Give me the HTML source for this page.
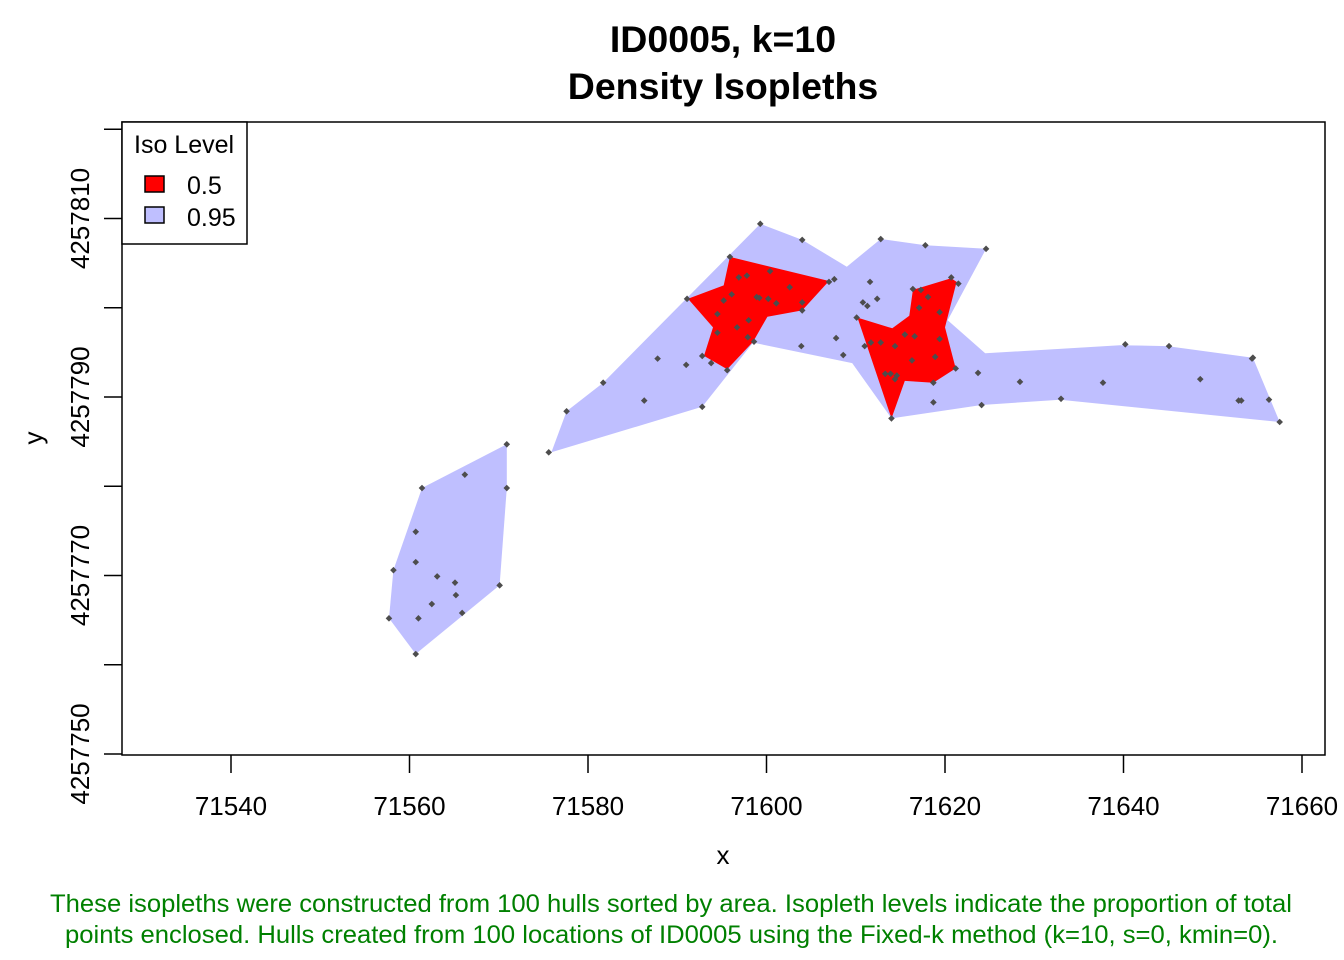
<!DOCTYPE html>
<html><head><meta charset="utf-8"><style>
html,body{margin:0;padding:0;background:#fff;}
svg{display:block;font-family:"Liberation Sans",Arial,sans-serif;}
</style></head><body>
<svg id="chart" width="1344" height="960" viewBox="0 0 1344 960">
<rect width="1344" height="960" fill="#fff"/>
<text x="723" y="52" text-anchor="middle" font-size="37.5" font-weight="bold">ID0005, k=10</text>
<text x="723" y="99" text-anchor="middle" font-size="37.5" font-weight="bold">Density Isopleths</text>
<g id="plot"></g>
<rect x="122" y="122" width="1203" height="633" fill="none" stroke="#000" stroke-width="1.5"/>
<g id="axes"></g>
<text x="723" y="864" text-anchor="middle" font-size="26">x</text>
<text transform="translate(42,438) rotate(-90)" text-anchor="middle" font-size="26">y</text>
<g>
<rect x="122" y="122" width="125" height="122" fill="#fff" stroke="#000" stroke-width="1.5"/>
<text x="134" y="153" font-size="25">Iso Level</text>
<rect x="145" y="176" width="19" height="16" fill="#ff0000" stroke="#000" stroke-width="1.5"/>
<text x="187" y="194" font-size="25">0.5</text>
<rect x="145" y="207" width="19" height="16" fill="#bfbfff" stroke="#000" stroke-width="1.5"/>
<text x="187" y="226" font-size="25">0.95</text>
</g>
<text x="50" y="912" font-size="25" fill="#008000" textLength="1242" lengthAdjust="spacingAndGlyphs">These isopleths were constructed from 100 hulls sorted by area. Isopleth levels indicate the proportion of total</text>
<text x="65" y="943" font-size="25" fill="#008000" textLength="1213" lengthAdjust="spacingAndGlyphs">points enclosed. Hulls created from 100 locations of ID0005 using the Fixed-k method (k=10, s=0, kmin=0).</text>
</svg>
<script>
const xTicks=[71540,71560,71580,71600,71620,71640,71660];
const yTicks=[4257750,4257760,4257770,4257780,4257790,4257800,4257810,4257820];
const yTickLabels=[4257750,4257770,4257790,4257810];
const iso95MainX=[71577.6,71581.7,71599.3,71604.0,71609.0,71612.8,71617.8,71624.6,71620.3,71624.5,71639.6,71644.9,71654.5,71657.5,71632.9,71624.1,71614.0,71609.6,71598.5,71592.8,71575.9];
const iso95MainY=[4257788.4,4257791.6,4257809.4,4257807.6,4257804.6,4257807.7,4257807.0,4257806.6,4257798.6,4257794.9,4257795.8,4257795.7,4257794.4,4257787.2,4257789.7,4257789.1,4257787.6,4257793.8,4257796.1,4257788.9,4257783.8];
const iso95WestX=[71570.9,71570.9,71570.1,71560.7,71557.7,71558.2,71561.4];
const iso95WestY=[4257784.7,4257779.8,4257768.9,4257761.2,4257765.2,4257770.6,4257779.8];
const iso50AX=[71595.9,71607.0,71604.0,71600.1,71598.5,71595.6,71593.0,71594.0,71591.2,71595.2];
const iso50AY=[4257805.7,4257803.0,4257799.7,4257799.0,4257796.2,4257793.1,4257794.6,4257797.8,4257801.0,4257802.5];
const iso50BX=[71610.2,71614.1,71616.0,71616.4,71620.7,71621.3,71620.0,71621.2,71618.7,71615.5,71614.0];
const iso50BY=[4257798.9,4257797.7,4257799.1,4257802.0,4257803.3,4257802.9,4257797.8,4257793.2,4257791.6,4257791.8,4257787.6];
const ptX=[71570.9,71566.2,71561.4,71570.9,71560.7,71560.7,71558.2,71563.1,71565.1,71565.2,71570.1,71562.5,71565.9,71557.7,71561.0,71560.7,
71575.6,71577.6,71581.7,71586.3,71587.8,71591.0,71592.8,71592.8,71593.8,71595.6,71594.5,71591.1,71594.5,71595.2,71596.1,71595.9,71596.9,71597.8,71600.4,71596.7,71598.0,71597.9,71598.6,71598.9,71599.2,71600.2,71601.1,71602.6,71604.0,71604.0,71599.3,71604.0,71607.0,71607.6,71603.9,71607.8,71608.6,71611.6,71610.8,71611.3,71612.4,71610.1,71611.0,71611.7,71612.8,71614.4,71615.5,71616.6,71616.3,71618.9,71619.4,71619.4,71617.1,71618.1,71616.4,71617.3,71620.7,71621.5,71612.8,71617.8,71613.3,71613.9,71614.6,71614.4,71618.7,71621.2,71614.0,71623.7,71618.7,71624.1,71624.6,71628.4,71637.7,71640.2,71645.1,71648.6,71654.5,71654.4,71633.0,71652.9,71653.2,71656.3,71657.5];
const ptY=[4257784.7,4257781.3,4257779.8,4257779.8,4257774.9,4257771.5,4257770.6,4257769.9,4257769.2,4257767.8,4257768.9,4257766.8,4257765.8,4257765.2,4257765.2,4257761.2,
4257783.8,4257788.4,4257791.6,4257789.6,4257794.3,4257793.6,4257788.9,4257794.6,4257793.8,4257793.0,4257797.2,4257801.0,4257799.3,4257800.8,4257801.5,4257805.7,4257803.4,4257803.6,4257804.1,4257797.8,4257798.6,4257796.7,4257796.2,4257801.2,4257801.1,4257801.0,4257800.5,4257802.3,4257800.6,4257799.7,4257809.4,4257807.6,4257802.9,4257803.2,4257795.7,4257796.6,4257794.7,4257802.9,4257800.6,4257800.2,4257801.0,4257798.9,4257795.7,4257796.1,4257796.1,4257795.7,4257797.0,4257796.8,4257794.1,4257794.5,4257796.5,4257799.5,4257800.0,4257801.2,4257802.1,4257802.0,4257803.4,4257802.7,4257807.7,4257807.0,4257792.6,4257792.6,4257792.4,4257792.0,4257791.6,4257793.2,4257787.6,4257792.7,4257789.4,4257789.1,4257806.6,4257791.7,4257791.6,4257795.9,4257795.7,4257792.0,4257794.4,4257794.3,4257789.8,4257789.6,4257789.6,4257789.7,4257787.2];

const NS='http://www.w3.org/2000/svg';
const sx=v=>231+(v-71540)*(1071/120);
const sy=v=>397-(v-4257790)*(178.5/20);
const plot=document.getElementById('plot');
const axes=document.getElementById('axes');
function mk(tag,attrs,parent){const e=document.createElementNS(NS,tag);for(const k in attrs)e.setAttribute(k,attrs[k]);parent.appendChild(e);return e;}
function poly(xs,ys,fill,name){
  const pts=xs.map((x,i)=>sx(x).toFixed(1)+','+sy(ys[i]).toFixed(1)).join(' ');
  const p=mk('polygon',{points:pts,fill:fill},plot);
  
  
}
poly(iso95MainX,iso95MainY,'#bfbfff','isopleth-95-main');
poly(iso95WestX,iso95WestY,'#bfbfff','isopleth-95-west');
poly(iso50AX,iso50AY,'#ff0000','isopleth-50-a');
poly(iso50BX,iso50BY,'#ff0000','isopleth-50-b');
ptX.forEach((x,i)=>{
  const cx=sx(x),cy=sy(ptY[i]);
  const d=mk('polygon',{points:`${cx},${cy-3.3} ${cx+3.3},${cy} ${cx},${cy+3.3} ${cx-3.3},${cy}`,fill:'#4d4d4d'},plot);
  
  
});
xTicks.forEach(t=>{
  const x=sx(t);
  const l=mk('line',{x1:x,y1:755,x2:x,y2:773,stroke:'#000','stroke-width':1.5},axes);
  
  
  const tx=mk('text',{x:x,y:815,'text-anchor':'middle','font-size':26},axes);
  tx.textContent=t;
  
  
});
yTicks.forEach(t=>{
  const y=sy(t);
  const l=mk('line',{x1:104,y1:y,x2:122,y2:y,stroke:'#000','stroke-width':1.5},axes);
  
  
});
yTickLabels.forEach(t=>{
  const y=sy(t);
  const tx=mk('text',{transform:`translate(89,${y}) rotate(-90)`,'text-anchor':'middle','font-size':26},axes);
  tx.textContent=t;
  
  
});
</script>
</body></html>
